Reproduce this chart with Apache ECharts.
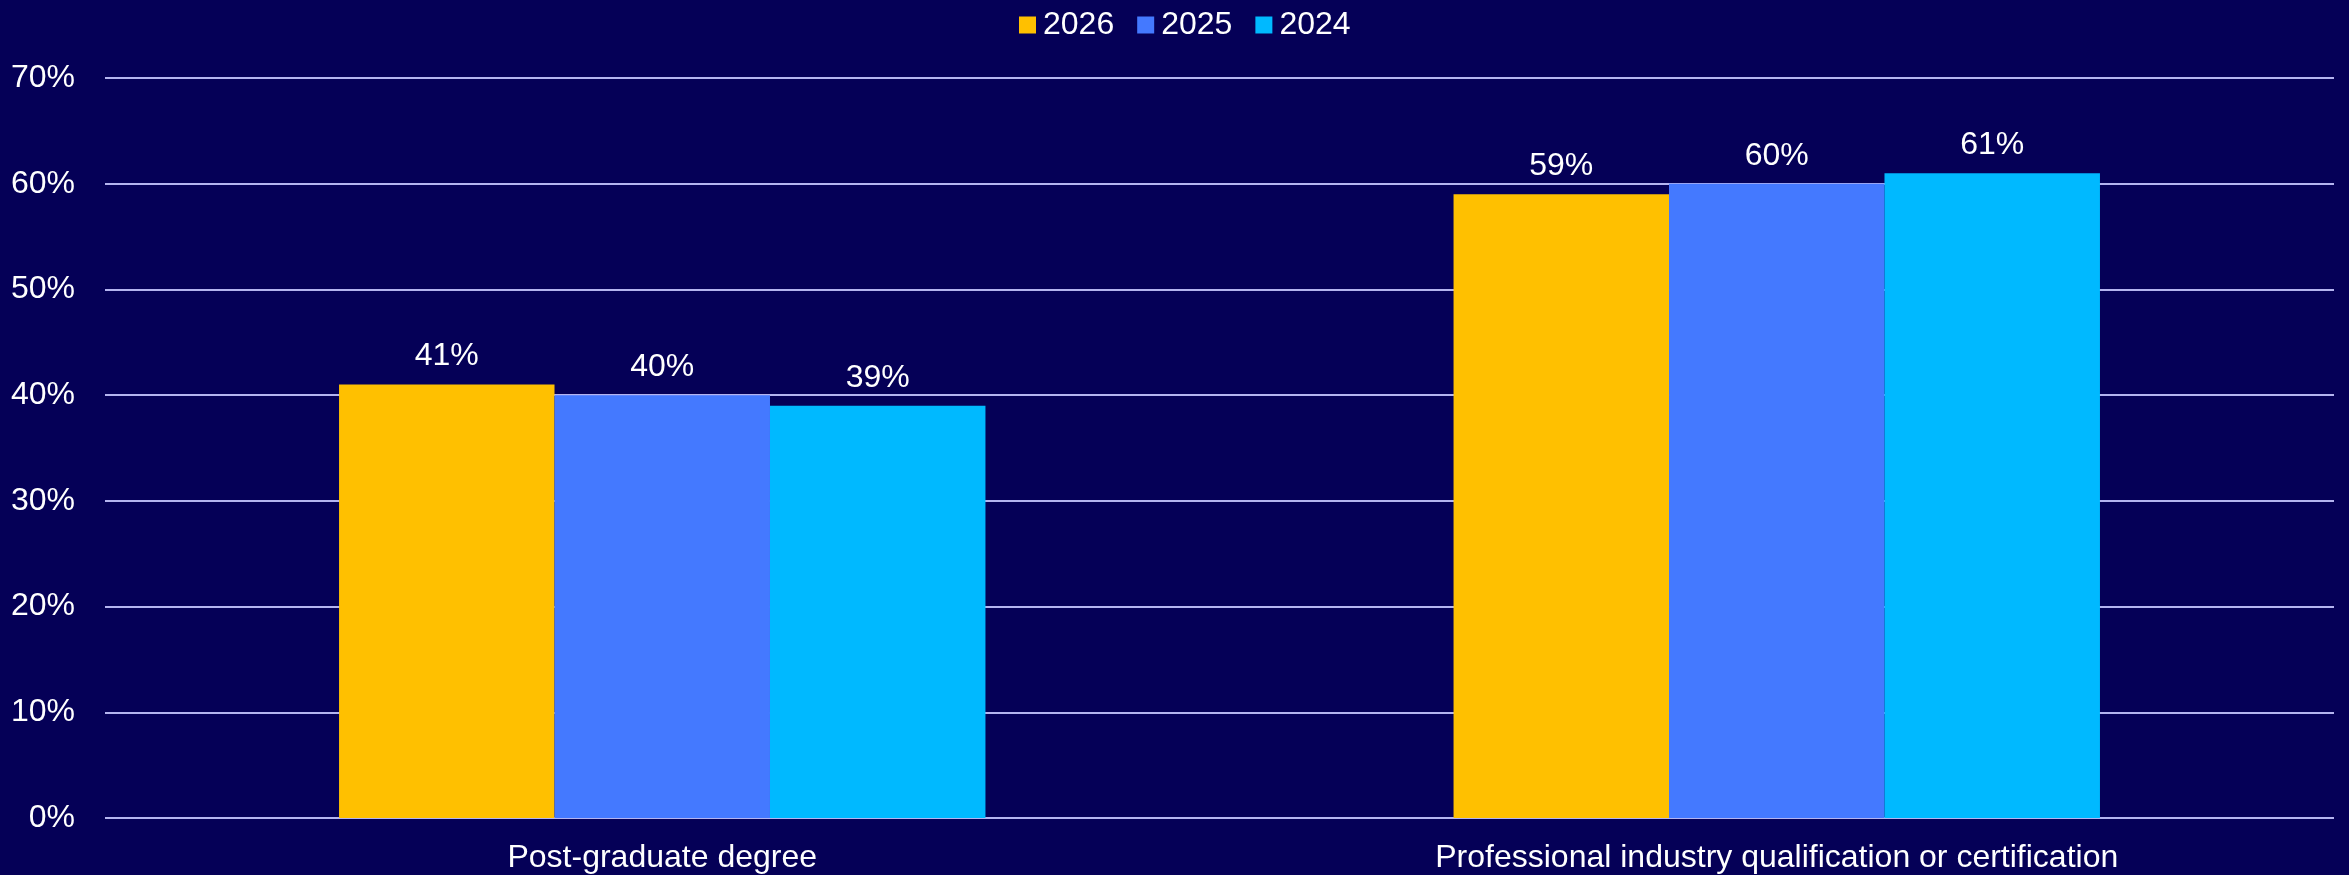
<!DOCTYPE html>
<html><head><meta charset="utf-8">
<script src="https://cdn.jsdelivr.net/npm/echarts@6/dist/echarts.min.js"></script>
<style>html,body{margin:0;padding:0;background:#050057;}#c{width:2349px;height:875px;}</style>
</head><body><div id="c"></div>
<script>
const categories = ["Post-graduate degree", "Professional industry qualification or certification"];
const seriesNames = ["2026", "2025", "2024"];
const values2026 = [41, 59];
const values2025 = [40, 60];
const values2024 = [39, 61];
const colors = ["#FFC000", "#4479FF", "#00B9FF"];
const allValues = [values2026, values2025, values2024];

const chart = echarts.init(document.getElementById('c'));
const font = '"Liberation Sans", Arial, sans-serif';
chart.setOption({
  backgroundColor: '#050057',
  animation: false,
  textStyle: { fontFamily: font },
  legend: {
    top: 9, left: 1019, padding: 0,
    data: seriesNames,
    icon: 'rect', itemWidth: 17, itemHeight: 17, itemGap: 23,
    textStyle: { color: '#ffffff', fontSize: 32, fontFamily: font, padding: [0,0,0,2] }
  },
  grid: { left: 105, right: 15, top: 78, bottom: 57, containLabel: false },
  xAxis: {
    type: 'category', data: categories,
    axisLine: { show: false }, axisTick: { show: false },
    axisLabel: { color: '#ffffff', fontSize: 32, margin: 24, fontFamily: font }
  },
  yAxis: {
    type: 'value', min: 0, max: 70, interval: 10,
    axisLine: { show: false }, axisTick: { show: false },
    axisLabel: { color: '#ffffff', fontSize: 32, margin: 30, formatter: '{value}%', fontFamily: font },
    splitLine: { lineStyle: { color: '#B4B4F0', width: 2 } }
  },
  series: seriesNames.map((n, i) => ({
    name: n, type: 'bar', data: allValues[i],
    barGap: '0%', barCategoryGap: '42%',
    itemStyle: { color: colors[i] },
    label: { show: true, position: 'top', distance: 12, color: '#ffffff', fontSize: 32, formatter: '{c}%', fontFamily: font }
  }))
});
</script></body></html>
